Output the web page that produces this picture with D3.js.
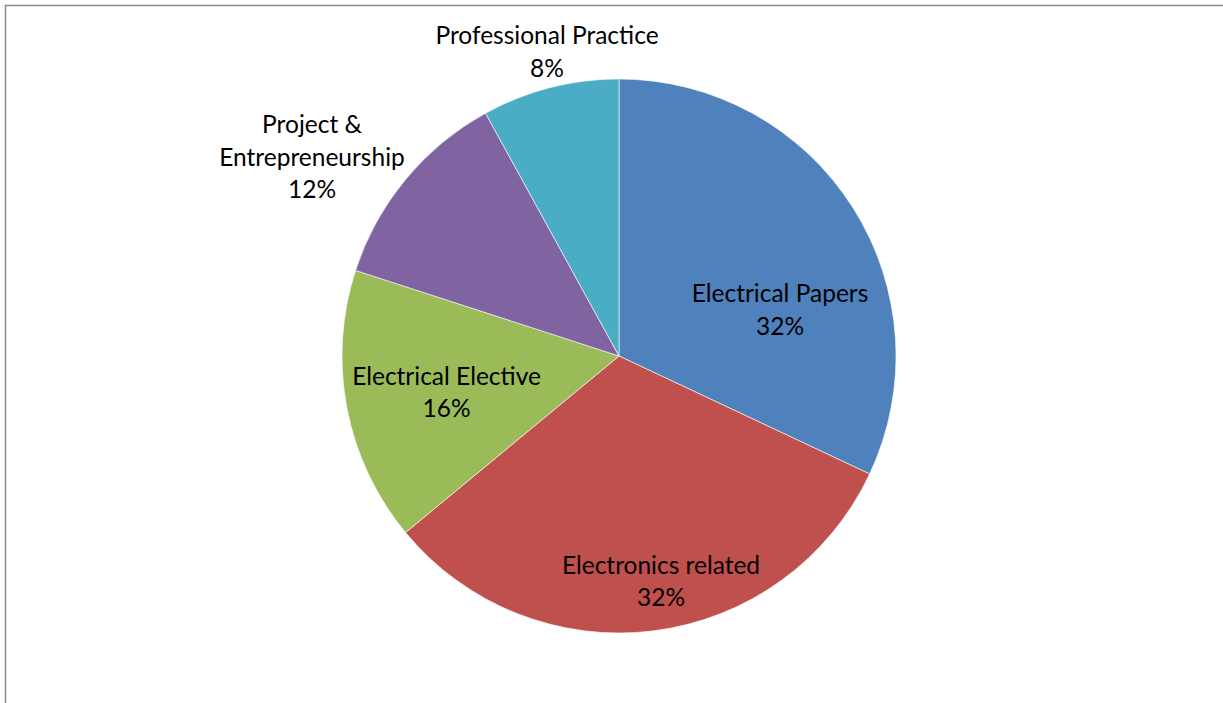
<!DOCTYPE html>
<html><head><meta charset="utf-8">
<script src="https://cdn.jsdelivr.net/npm/d3@7"></script>
<style>body{margin:0;background:#fff}svg{display:block}text{font-family:Lato,"Open Sans",sans-serif;font-size:24.5px;fill:#000}</style>
</head><body><svg id="c" width="1223" height="703"></svg>
<script>
const categories = ["Electrical Papers","Electronics related","Electrical Elective","Project & Entrepreneurship","Professional Practice"];
const values = [32, 32, 16, 12, 8];
const labelLines = [["Electrical Papers","32%"],["Electronics related","32%"],["Electrical Elective","16%"],["Project &","Entrepreneurship","12%"],["Professional Practice","8%"]];
const colors = ["#4F81BD","#C0504D","#9BBB59","#8064A2","#4BACC6"];
// label centre offsets from pie centre (layout)
const labelOffsets = [[161,-46],[42,225.5],[-172.5,36.5],[-307,-199],[-72,-304]];

const svg = d3.select("#c");
svg.append("rect").attr("x",5.5).attr("y",5.5).attr("width",1400).attr("height",900)
  .attr("fill","none").attr("stroke","#8a8a8a").attr("stroke-width",1.5);
const cx=619, cy=356, r=277;
const g = svg.append("g").attr("transform",`translate(${cx},${cy})`);
const pie = d3.pie().sort(null).value(d=>d)(values);
const arc = d3.arc().innerRadius(0).outerRadius(r);
g.selectAll("path").data(pie).join("path").attr("d",arc)
  .attr("fill",(d,i)=>colors[i]).attr("stroke","#fff").attr("stroke-width",0.6);
const lh = 32.5;
pie.forEach((d,i)=>{
  const lines = labelLines[i];
  const [ox,oy] = labelOffsets[i];
  const t = g.append("text").attr("text-anchor","middle");
  lines.forEach((s,k)=>{
    t.append("tspan").attr("x",ox).attr("y",oy+(k-(lines.length-1)/2)*lh).attr("dy","0.35em").text(s);
  });
});
</script></body></html>
